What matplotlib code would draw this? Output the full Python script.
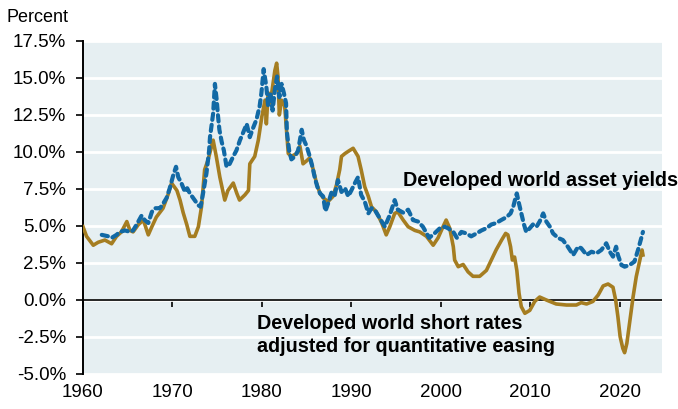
import matplotlib.pyplot as plt
import numpy as np

# Developed world short rates adjusted for QE (gold, solid)
short_years = [1960.0, 1960.4, 1961.15, 1961.7, 1962.45, 1963.2, 1963.75, 1964.3, 1964.9, 1965.25,
               1965.6, 1966.2, 1966.75, 1967.3, 1967.7, 1968.2, 1968.95, 1969.5, 1969.9, 1970.5,
               1970.85, 1971.2, 1971.6, 1971.95, 1972.5, 1972.9, 1973.25, 1973.6, 1974.0, 1974.55,
               1974.9, 1975.3, 1975.85, 1976.2, 1976.8, 1977.2, 1977.5, 1978.1, 1978.5, 1978.65,
               1979.2, 1979.6, 1980.0, 1980.35, 1980.5, 1980.7, 1980.9, 1981.1, 1981.45, 1981.65,
               1981.8, 1981.95, 1982.2, 1982.55, 1982.75, 1982.95, 1983.3, 1983.9, 1984.25, 1984.6,
               1985.0, 1985.35, 1985.75, 1986.1, 1986.5, 1986.85, 1987.4, 1987.95, 1988.35, 1988.7,
               1988.9, 1989.3, 1989.8, 1990.2, 1990.75, 1991.1, 1991.5, 1991.9, 1992.25, 1992.8,
               1993.4, 1993.9, 1994.3, 1994.85, 1995.2, 1995.8, 1996.35, 1997.1, 1997.65, 1998.4,
               1999.15, 1999.7, 2000.25, 2000.6, 2001.0, 2001.4, 2001.55, 2001.95, 2002.5, 2003.05,
               2003.6, 2004.35, 2005.1, 2005.65, 2006.2, 2006.8, 2007.25, 2007.5, 2007.8, 2008.0,
               2008.25, 2008.5, 2008.75, 2009.0, 2009.4, 2009.95, 2010.5, 2011.05, 2011.8, 2012.9,
               2014.05, 2015.15, 2015.7, 2016.3, 2017.0, 2017.6, 2018.15, 2018.7, 2019.25, 2019.55,
               2019.8, 2020.05, 2020.35, 2020.55, 2020.8, 2021.1, 2021.5, 2021.85, 2022.25, 2022.5,
               2022.6]
short_rates = [4.95, 4.3, 3.7, 3.9, 4.05, 3.8, 4.3, 4.6, 5.3, 4.7,
               4.6, 5.1, 5.4, 4.4, 4.95, 5.6, 6.2, 7.1, 7.9, 7.4,
               6.75, 5.9, 5.1, 4.3, 4.3, 4.95, 6.3, 8.8, 9.5, 10.8,
               9.7, 8.3, 6.75, 7.4, 7.9, 7.2, 6.75, 7.1, 7.4, 9.2,
               9.7, 10.8, 12.4, 13.5, 11.9, 14.0, 13.3, 14.0, 15.5, 16.0,
               15.1, 12.5, 13.5, 13.1, 11.5, 9.9, 9.7, 9.9, 10.4, 9.2,
               9.4, 9.6, 8.8, 7.9, 7.2, 6.9, 6.65, 7.0, 7.8, 8.8,
               9.7, 9.9, 10.1, 10.25, 9.7, 8.8, 7.65, 7.0, 6.3, 5.95,
               5.2, 4.4, 4.95, 5.85, 5.95, 5.4, 4.95, 4.7, 4.6, 4.3,
               3.7, 4.2, 4.95, 5.4, 4.85, 3.6, 2.7, 2.25, 2.4, 1.9,
               1.6, 1.6, 2.0, 2.7, 3.4, 4.05, 4.5, 4.4, 3.6, 2.7,
               2.9, 2.0, 0.45, -0.45, -0.9, -0.7, -0.1, 0.2, 0.0, -0.27,
               -0.34, -0.34, -0.18, -0.27, -0.1, 0.34, 0.95, 1.08, 0.86, 0.0,
               -1.13, -2.48, -3.27, -3.56, -2.93, -1.57, 0.22, 1.57, 2.7, 3.38,
               3.04]

# Developed world asset yields (blue, dashed)
yield_years = [1962.1, 1962.85, 1963.2, 1963.75, 1964.1, 1964.7, 1965.25, 1965.6, 1966.0, 1966.55,
               1966.9, 1967.3, 1967.7, 1968.05, 1968.6, 1968.95, 1969.35, 1969.7, 1970.1, 1970.4,
               1970.65, 1971.0, 1971.4, 1971.65, 1971.95, 1972.3, 1972.6, 1972.9, 1973.15, 1973.45,
               1973.8, 1974.1, 1974.2, 1974.55, 1974.75, 1974.95, 1975.1, 1975.25, 1975.5, 1975.75,
               1976.05, 1976.4, 1976.8, 1977.15, 1977.55, 1977.9, 1978.3, 1978.65, 1979.0, 1979.4,
               1979.75, 1979.95, 1980.2, 1980.5, 1980.7, 1980.95, 1981.2, 1981.45, 1981.7, 1981.95,
               1982.2, 1982.45, 1982.7, 1982.8, 1983.05, 1983.3, 1983.7, 1984.05, 1984.45, 1984.7,
               1985.0, 1985.35, 1985.65, 1985.9, 1986.2, 1986.5, 1986.85, 1987.1, 1987.45, 1987.8,
               1988.15, 1988.5, 1988.9, 1989.3, 1989.65, 1990.0, 1990.4, 1990.75, 1991.1, 1991.5,
               1991.9, 1992.25, 1992.6, 1993.2, 1993.75, 1994.3, 1994.85, 1995.2, 1995.8, 1996.35,
               1996.9, 1997.45, 1998.0, 1998.7, 1999.3, 1999.9, 2000.45, 2000.8, 2001.4, 2001.8,
               2002.3, 2002.85, 2003.4, 2004.0, 2004.55, 2005.1, 2005.65, 2006.2, 2006.75, 2007.35,
               2007.8, 2008.1, 2008.4, 2008.5, 2008.75, 2009.0, 2009.3, 2009.55, 2009.95, 2010.3,
               2010.7, 2011.05, 2011.45, 2011.8, 2012.2, 2012.55, 2013.1, 2013.65, 2014.2, 2014.8,
               2015.35, 2015.7, 2016.3, 2016.85, 2017.4, 2017.95, 2018.5, 2018.9, 2019.25, 2019.6,
               2019.8, 2020.2, 2020.55, 2021.1, 2021.65, 2022.05, 2022.35, 2022.6]
asset_yields = [4.4, 4.3, 4.2, 4.4, 4.6, 4.7, 4.6, 4.7, 5.1, 5.7,
                5.4, 5.2, 5.95, 6.2, 6.2, 6.5, 6.9, 7.55, 8.45, 9.0,
                8.3, 7.9, 7.3, 7.55, 7.2, 6.9, 6.65, 6.4, 6.3, 7.3,
                8.55, 10.1, 11.0, 12.6, 14.6, 13.5, 12.4, 11.5, 10.7, 10.1,
                9.0, 9.2, 9.7, 10.1, 10.8, 11.3, 11.9, 11.0, 11.6, 12.2,
                13.1, 14.0, 15.6, 14.4, 13.1, 14.0, 12.8, 14.2, 15.1, 13.7,
                14.6, 14.0, 13.3, 11.3, 10.1, 9.5, 9.7, 10.1, 11.5, 10.8,
                10.4, 9.7, 9.0, 8.3, 7.65, 7.2, 7.0, 6.0, 6.6, 7.3,
                7.1, 8.1, 7.3, 7.55, 7.0, 7.4, 7.9, 8.3, 7.1, 6.65,
                5.85, 6.2, 6.1, 5.5, 4.95, 5.75, 6.75, 6.1, 5.9, 6.1,
                5.4, 5.3, 4.95, 4.2, 4.5, 4.85, 4.95, 4.85, 4.6, 4.2,
                4.6, 4.5, 4.3, 4.5, 4.7, 4.85, 5.1, 5.2, 5.4, 5.6,
                5.85, 6.3, 7.0, 7.2, 6.5, 5.85, 5.1, 4.6, 4.85, 5.1,
                4.95, 5.3, 5.85, 5.3, 4.95, 4.5, 4.2, 4.05, 3.6, 3.04,
                3.6, 3.5, 3.04, 3.26, 3.15, 3.38, 3.83, 3.26, 2.93, 3.6,
                3.04, 2.36, 2.25, 2.36, 2.59, 3.38, 4.05, 4.6]

year_ticks = [1960, 1970, 1980, 1990, 2000, 2010, 2020]
pct_ticks = [-5.0, -2.5, 0.0, 2.5, 5.0, 7.5, 10.0, 12.5, 15.0, 17.5]

BLUE = "#1269A5"
GOLD = "#A57D21"
BG = "#E6EFF2"

plt.rcParams["font.family"] = ["Liberation Sans", "DejaVu Sans"]

fig = plt.figure(figsize=(6.78, 4.09), dpi=100)
ax = fig.add_axes([0.1224, 0.0856, 0.8536, 0.8142])
ax.set_facecolor(BG)

ymin, ymax = -5.0, 17.5
ax.set_xlim(1960, 2024.7)
ax.set_ylim(ymin, ymax)

ax.yaxis.grid(True, color="white", lw=2)
ax.set_axisbelow(True)

ax.plot(short_years, short_rates, color=GOLD, lw=2.6, zorder=3, solid_joinstyle="round")
ax.plot(yield_years, asset_yields, color=BLUE, lw=3.0, zorder=4,
        dashes=(1.5, 1.2), dash_capstyle="round")

ax.axhline(0, color="black", lw=1.2, zorder=2)

for side in ("top", "right", "bottom"):
    ax.spines[side].set_visible(False)
ax.spines["left"].set_linewidth(1.4)

ax.set_yticks(pct_ticks)
ax.set_yticklabels([f"{v:.1f}%" for v in pct_ticks])
ax.tick_params(axis="y", length=5, width=1.2, pad=7, labelsize=13.5)

ax.set_xticks(year_ticks)
ax.set_xticklabels([str(y) for y in year_ticks])
ax.tick_params(axis="x", length=0, pad=7, labelsize=13.5)

# tick marks sit on the zero line
zero_ax = ax.secondary_xaxis((0 - ymin) / (ymax - ymin))
zero_ax.set_xticks(year_ticks)
zero_ax.set_xticklabels([])
zero_ax.tick_params(length=5, width=1.2)
zero_ax.spines["bottom"].set_visible(False)

ax.text(1995.75, 8.1, "Developed world asset yields", fontsize=14.2, fontweight="bold",
        ha="left", va="center", zorder=5, clip_on=False)
ax.text(1979.45, -2.35, "Developed world short rates\nadjusted for quantitative easing",
        fontsize=14.2, fontweight="bold", ha="left", va="center", linespacing=1.3, zorder=5)

fig.text(7 / 678, 1 - 17 / 409, "Percent", fontsize=13, ha="left", va="center")

fig.savefig("out.png", dpi=100)
